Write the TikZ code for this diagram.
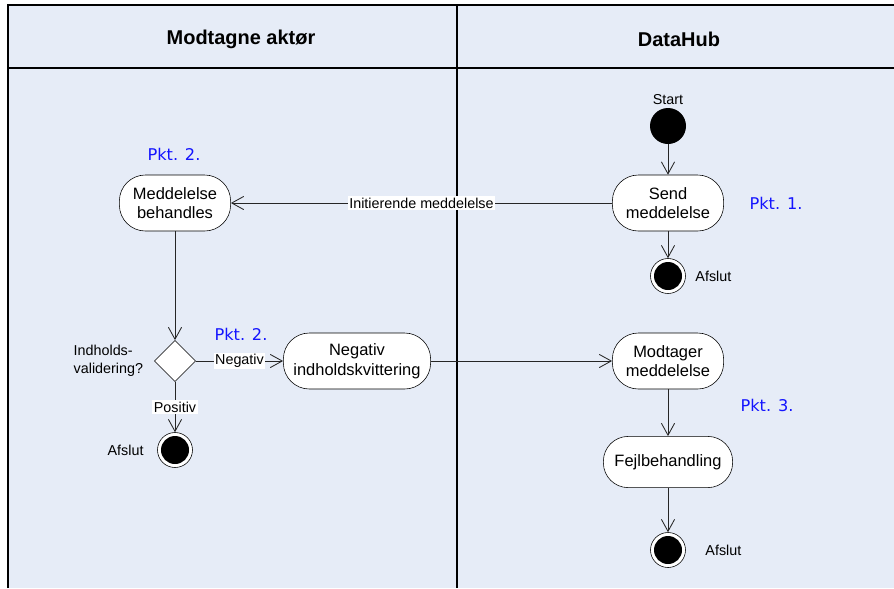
\documentclass[tikz,border=0pt]{standalone}
\usepackage{fontspec}
\setmainfont{Liberation Sans}
\newfontfamily\pktfont{DejaVu Sans}
\usetikzlibrary{arrows.meta,positioning,shapes.geometric}

\definecolor{lanebg}{RGB}{230,236,247}
\definecolor{pktblue}{RGB}{20,20,255}

\begin{document}
\begin{tikzpicture}[x=0.025cm, y=-0.025cm, >={Straight Barb[length=3mm, width=3.3mm]}]

\tikzset{
  action/.style={
    rectangle, rounded corners=0.65cm,
    draw, fill=white, align=center,
    minimum height=1.4cm, minimum width=2.78cm,
    inner sep=2pt, font=\fontsize{11.7}{14}\selectfont
  },
  initial/.style={circle, fill=black, minimum size=0.9cm, inner sep=0pt},
  final/.style={
    circle, draw, fill=white, minimum size=0.875cm, inner sep=0pt,
    path picture={\fill[black] (path picture bounding box.center) circle (0.35cm);}
  },
  decision/.style={diamond, draw, fill=white, minimum width=1.03cm, minimum height=1.03cm, inner sep=0pt},
  note/.style={font=\fontsize{10.2}{12.5}\selectfont, inner sep=1pt},
  edgelabel/.style={note, fill=white},
  pkt/.style={font=\pktfont\fontsize{11.5}{13}\selectfont, text=pktblue},
  lanehead/.style={font=\bfseries\fontsize{14.2}{17}\selectfont},
  arrow/.style={->, line width=0.6pt, draw=black!85}
}

\useasboundingbox (0,0) rectangle (894,588);

% ==========================
% Swimlanes (background)
% ==========================
\fill[lanebg] (8,5) rectangle (894,588);
\draw[line width=1.4pt] (8,588) -- (8,5) -- (894,5);
\draw[line width=1.4pt] (8,68) -- (894,68);
\draw[line width=0.9pt] (457,5) -- (457,588);

\node[lanehead] (lane1) at (241,39) {Modtagne aktør};
\node[lanehead] (lane2) at (679,39) {DataHub};

% ==========================
% DataHub (right lane)
% ==========================
\node[initial] (start) at (668,126) {};
\node[note, above=1pt of start] (startlbl) {Start};
\node[action] (send) at (668,203) {Send\\meddelelse};
\node[pkt] (pkt1) at (776,203) {Pkt. 1.};
\node[final] (end1) at (668,276) {};
\node[note, right=0.2cm of end1] (end1lbl) {Afslut};

\node[action] (modtager) at (668,361) {Modtager\\meddelelse};
\node[pkt] (pkt3) at (767,405) {Pkt. 3.};
\node[action, minimum height=1.28cm, minimum width=3.23cm, rounded corners=0.62cm] (fejl) at (668,462) {Fejlbehandling};
\node[final] (end3) at (668,550) {};
\node[note, right=0.45cm of end3] (end3lbl) {Afslut};

% ==========================
% Modtagne aktør (left lane)
% ==========================
\node[pkt] (pkt2a) at (174,154) {Pkt. 2.};
\node[action] (behandl) at (175,203) {Meddelelse\\behandles};
\node[decision] (valid) at (175,361) {};
\node[note, anchor=west, align=left] (validlbl) at (72,361) {Indholds-\\validering?};
\node[pkt] (pkt2b) at (241,334) {Pkt. 2.};
\node[action, minimum width=3.68cm] (negativ) at (357,361) {Negativ\\indholdskvittering};
\node[final] (end2) at (175,450) {};
\node[note, left=0.3cm of end2] (end2lbl) {Afslut};

% ==========================
% Flows
% ==========================
\draw[arrow] (start) -- (send);
\draw[arrow] (send) -- (end1);
\draw[arrow] (send) -- node[edgelabel] {Initierende meddelelse} (behandl);
\draw[arrow] (behandl) -- (valid);
\draw[arrow] (valid) -- node[edgelabel] {Negativ} (negativ);
\draw[arrow] (valid) -- node[edgelabel] {Positiv} (end2);
\draw[arrow] (negativ) -- (modtager);
\draw[arrow] (modtager) -- (fejl);
\draw[arrow] (fejl) -- (end3);

\end{tikzpicture}
\end{document}
